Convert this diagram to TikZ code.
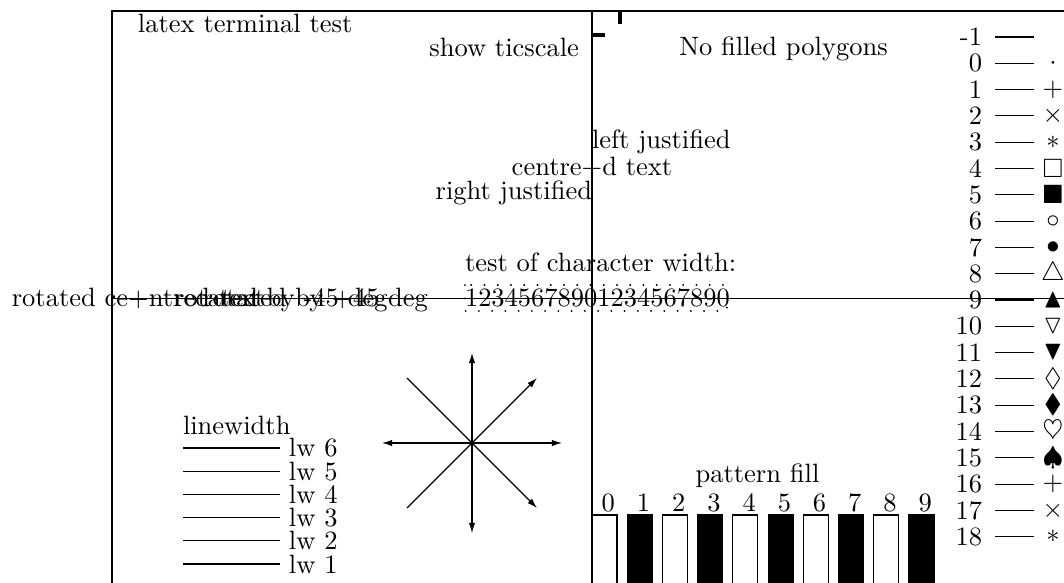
\documentclass[tikz,border=0pt]{standalone}
\usepackage{amssymb}
\usetikzlibrary{arrows.meta}
\begin{document}
\begin{tikzpicture}[x=0.37736pt,y=-0.37736pt,
  txt/.style={inner sep=0pt,outer sep=0pt},
  frameline/.style={line width=0.4pt},
  arr/.style={line width=0.45pt,-{Latex[length=3.8pt,width=2.4pt]}},
  plainray/.style={line width=0.45pt},
  ticmark/.style={line width=1.3pt},
  dotbox/.style={line width=0.75pt,dash pattern=on 0.01pt off 4.99pt,line cap=round},
  openbar/.style={line width=0.4pt,draw=black,fill=white},
  solidbar/.style={line width=0.4pt,draw=black,fill=black}]
\useasboundingbox (0,0) rectangle (1064,582);
% frame and axes
\coordinate (tl) at (112,11);
\coordinate (tr) at (1070,11);
\coordinate (bl) at (112,590);
\coordinate (ha) at (112,298.5);
\coordinate (hb) at (1070,298.5);
\coordinate (va) at (592,11);
\coordinate (vb) at (592,590);
\draw[frameline] (bl) -- (tl) -- (tr);
\draw[frameline] (ha) -- (hb);
\draw[frameline] (va) -- (vb);
% ticscale marks
\coordinate (tha) at (592,35);
\coordinate (thb) at (605,35);
\coordinate (tva) at (620,11);
\coordinate (tvb) at (620,24);
\draw[ticmark] (tha) -- (thb);
\draw[ticmark] (tva) -- (tvb);
% texts
\node[txt,anchor=base west] (title) at (138,32) {latex terminal test};
\node[txt,anchor=base east] (tics) at (579,56) {show ticscale};
\node[txt,anchor=base] (nofill) at (783.5,55) {No filled polygons};
\node[txt,anchor=base west] (lj) at (592,148) {left justified};
\node[txt,anchor=base] (cj) at (592,175) {centre+d text};
\node[txt,anchor=base east] (rj) at (592,199) {right justified};
\node[txt,anchor=base west] (tcw) at (465,271) {test of character width:};
\node[txt,anchor=base west] (digits) at (465,306) {12345678901234567890};
\coordinate (dba) at (465,285);
\coordinate (dbb) at (727,311);
\draw[dotbox] (dba) rectangle (dbb);
\node[txt,anchor=base] (rct) at (138.5,306) {rotated ce+ntred text};
\node[txt,anchor=base west] (rm) at (174,306) {rotated by -45 deg};
\node[txt,anchor=base west] (rp) at (202.5,306) {rotated by +45 deg};
% linewidth
\node[txt,anchor=base west] (lwt) at (183,434) {linewidth};
\foreach \i in {1,...,6}{
  \pgfmathsetmacro\yy{564-23.2*(\i-1)}
  \coordinate (lwa\i) at (183,\yy);
  \coordinate (lwb\i) at (280,\yy);
  \draw[frameline] (lwa\i) -- (lwb\i);
  \node[txt,anchor=west] (lwl\i) at (289,\yy) {lw \i};
}
% arrows
\coordinate (ctr) at (472,443);
\coordinate (aup) at (472,353);
\coordinate (adn) at (472,533);
\coordinate (alf) at (382,443);
\coordinate (art) at (562,443);
\coordinate (ane) at (537,378);
\coordinate (ase) at (537,508);
\coordinate (anw) at (407,378);
\coordinate (asw) at (407,508);
\draw[arr] (ctr) -- (aup);
\draw[arr] (ctr) -- (adn);
\draw[arr] (ctr) -- (alf);
\draw[arr] (ctr) -- (art);
\draw[arr] (ctr) -- (ane);
\draw[arr] (ctr) -- (ase);
\draw[plainray] (ctr) -- (anw);
\draw[plainray] (ctr) -- (asw);
% pattern fill
\node[txt,anchor=base] (pft) at (757.5,482) {pattern fill};
\foreach \i in {0,...,9}{
  \pgfmathsetmacro\xx{592+35.22*\i}
  \pgfmathtruncatemacro\odd{mod(\i,2)}
  \coordinate (pba\i) at (\xx,515);
  \coordinate (pbb\i) at (\xx+25,600);
  \ifnum\odd=1
    \draw[solidbar] (pba\i) rectangle (pbb\i);
  \else
    \draw[openbar] (pba\i) rectangle (pbb\i);
  \fi
  \node[txt,anchor=base] (pbl\i) at (\xx+16.3,511) {\i};
}
% point types
\node[txt,anchor=east] (plm) at (982,37) {-1};
\coordinate (plma) at (995,37);
\coordinate (plmb) at (1034,37);
\draw[frameline] (plma) -- (plmb);
\foreach \k/\s in {0/{$\cdot$},1/{$+$},2/{$\times$},3/{$\ast$},4/{$\square$},5/{$\blacksquare$},6/{$\circ$},7/{$\bullet$},8/{$\triangle$},9/{$\blacktriangle$},10/{$\triangledown$},11/{$\blacktriangledown$},12/{$\lozenge$},13/{$\blacklozenge$},14/{$\heartsuit$},15/{$\spadesuit$},16/{$+$},17/{$\times$},18/{$\ast$}}{
  \pgfmathsetmacro\yy{37+26.3*(\k+1)}
  \node[txt,anchor=east] (pl\k) at (982,\yy) {\k};
  \coordinate (pla\k) at (995,\yy);
  \coordinate (plb\k) at (1034,\yy);
  \draw[frameline] (pla\k) -- (plb\k);
  \node[txt] (ps\k) at (1053,\yy) {\s};
}
\end{tikzpicture}
\end{document}
